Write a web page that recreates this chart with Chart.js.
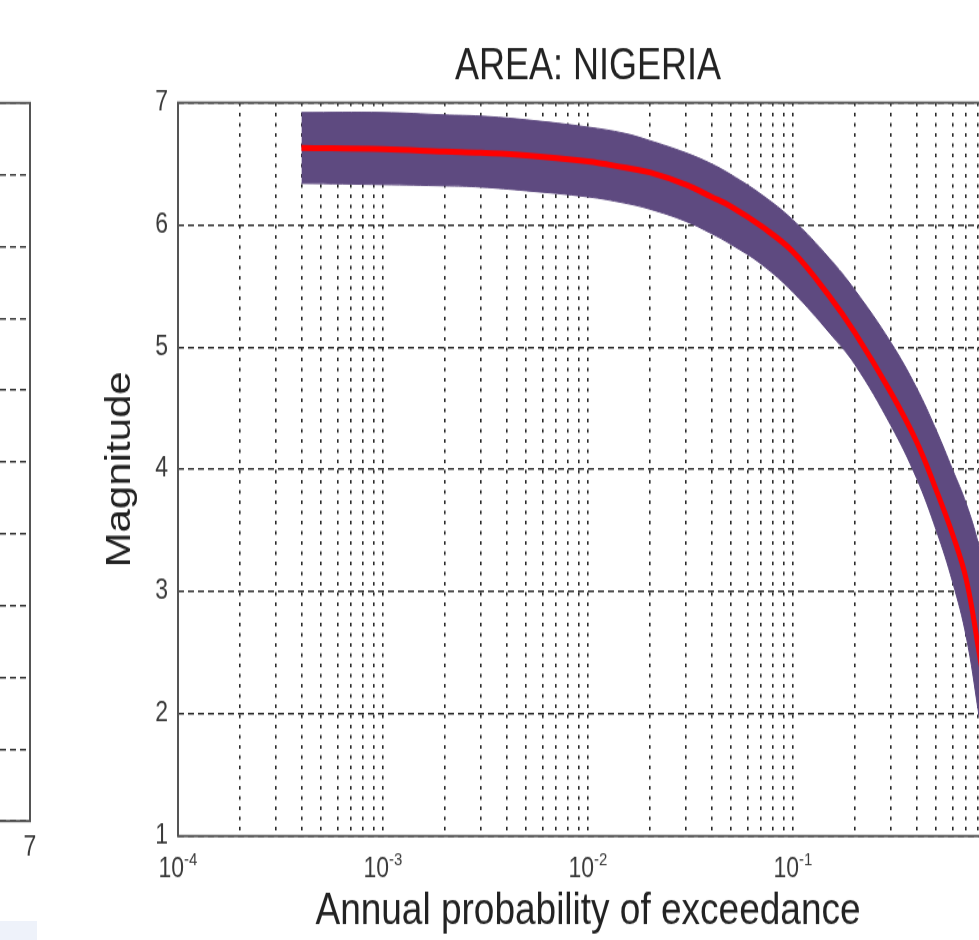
<!DOCTYPE html>
<html>
<head>
<meta charset="utf-8">
<script src="https://cdn.jsdelivr.net/npm/chart.js@4.4.0/dist/chart.umd.min.js"></script>
<style>
  html, body { margin: 0; padding: 0; background: #fff; overflow: hidden; }
  body { width: 979px; height: 940px; position: relative; }
  canvas { position: absolute; top: 0; transform: scaleY(1.2); transform-origin: 0 0; }
  #main { left: 0; }
  #side { left: -390px; }
  #tab { position: absolute; left: 0; top: 921px; width: 37px; height: 19px; background: #eef2fa; }
</style>
</head>
<body>
<canvas id="side" width="440" height="783"></canvas>
<canvas id="main" width="1100" height="783"></canvas>
<div id="tab"></div>
<script>
// annual probability of exceedance vs magnitude
const probs     = [0.0004, 0.001, 0.002, 0.003, 0.005, 0.01, 0.015, 0.02, 0.03, 0.04, 0.05, 0.07, 0.1, 0.15, 0.2, 0.3, 0.4, 0.5, 0.6, 0.7, 0.8, 0.9, 1.0];
const magMedian = [6.63, 6.62, 6.60, 6.59, 6.57, 6.52, 6.47, 6.43, 6.33, 6.23, 6.15, 5.99, 5.78, 5.42, 5.12, 4.63, 4.23, 3.83, 3.47, 3.10, 2.55, 2.00, 1.40];
const magUpper  = [6.92, 6.92, 6.90, 6.89, 6.86, 6.80, 6.75, 6.69, 6.59, 6.50, 6.41, 6.25, 6.04, 5.73, 5.47, 5.04, 4.67, 4.32, 4.00, 3.72, 3.40, 3.00, 2.50];
const magLower  = [6.34, 6.33, 6.32, 6.31, 6.28, 6.23, 6.18, 6.13, 6.03, 5.93, 5.84, 5.68, 5.45, 5.12, 4.86, 4.36, 3.93, 3.50, 3.08, 2.63, 2.03, 1.45, 1.00];

const xDecades   = [1e-4, 1e-3, 1e-2, 1e-1, 1];
const xDecadeExp = ['-4', '-3', '-2', '-1', '0'];
const yTicks     = [1, 2, 3, 4, 5, 6, 7];

// the neighbouring panel on the left, only its right edge is in view
const sideYTicks = [0, 1, 2, 3, 4, 5, 6, 7, 8, 9, 10];
const sideXTick  = 7;

const FONT = '"Liberation Sans", Arial, sans-serif';
const BAND = '#5e4a80';

// minor log grid: 1..9 in every decade
const xGrid = [];
xDecades.forEach(d => {
  for (let k = 1; k <= 9; k++) {
    if (d * k <= 1) xGrid.push(d * k);
  }
});

const pts = ys => probs.map((p, i) => ({ x: p, y: ys[i] }));

const frame = {
  id: 'frame',
  afterDraw(chart) {
    const a = chart.chartArea, ctx = chart.ctx;
    ctx.save();
    ctx.strokeStyle = '#555';
    ctx.lineWidth = 2;
    ctx.strokeRect(a.left, a.top, a.right - a.left, a.bottom - a.top);
    ctx.restore();
  }
};

// "10" with a raised exponent under each decade
const decadeLabels = {
  id: 'decadeLabels',
  afterDraw(chart) {
    const sx = chart.scales.x, ctx = chart.ctx, base = chart.chartArea.bottom;
    ctx.save();
    ctx.fillStyle = '#3a3a3a';
    ctx.textBaseline = 'middle';
    ctx.textAlign = 'left';
    xDecades.forEach((v, i) => {
      const px = sx.getPixelForValue(v);
      ctx.font = '23px ' + FONT;
      const w1 = ctx.measureText('10').width;
      ctx.font = '15px ' + FONT;
      const w2 = ctx.measureText(xDecadeExp[i]).width;
      const x0 = px - (w1 + w2) / 2;
      ctx.font = '23px ' + FONT;
      ctx.fillText('10', x0, base + 28);
      ctx.font = '15px ' + FONT;
      ctx.fillText(xDecadeExp[i], x0 + w1, base + 20);
    });
    ctx.restore();
  }
};

new Chart(document.getElementById('side'), {
  type: 'line',
  data: { datasets: [] },
  options: {
    responsive: false,
    animation: false,
    events: [],
    layout: { padding: { top: 85.8, right: 20, left: 0, bottom: 0 } },
    plugins: { legend: { display: false }, tooltip: { enabled: false } },
    scales: {
      x: {
        type: 'linear', min: 0, max: 7,
        afterBuildTicks: s => { s.ticks = [{ value: sideXTick }]; },
        afterFit: s => { s.height = 98.8; },
        grid: { display: false, drawTicks: false },
        border: { display: false },
        ticks: { color: '#3a3a3a', font: { size: 23, family: FONT }, padding: 9, maxRotation: 0, autoSkip: false }
      },
      y: {
        min: 0, max: 10,
        afterBuildTicks: s => { s.ticks = sideYTicks.map(v => ({ value: v })); },
        afterFit: s => { s.width = 40; },
        ticks: { display: false },
        grid: { color: '#333', lineWidth: 1.5, drawTicks: false },
        border: { display: false, dash: [6, 4] }
      }
    }
  },
  plugins: [frame]
});

new Chart(document.getElementById('main'), {
  type: 'line',
  data: {
    datasets: [
      {
        data: pts(magMedian),
        borderColor: '#ff0000',
        borderWidth: 5,
        pointRadius: 0,
        tension: 0.4,
        fill: false
      },
      {
        data: pts(magUpper),
        borderColor: BAND,
        backgroundColor: BAND,
        borderWidth: 1,
        pointRadius: 0,
        tension: 0.4,
        fill: '+1'
      },
      {
        data: pts(magLower),
        borderColor: BAND,
        borderWidth: 1,
        pointRadius: 0,
        tension: 0.4,
        fill: false
      }
    ]
  },
  options: {
    responsive: false,
    animation: false,
    events: [],
    layout: { padding: { left: 0, top: 0, right: 102, bottom: 0 } },
    plugins: {
      legend: { display: false },
      tooltip: { enabled: false },
      title: {
        display: true,
        text: 'AREA: NIGERIA',
        fullSize: false,
        color: '#222',
        font: { size: 36, family: FONT, weight: 'normal' },
        padding: { top: 34, bottom: 8.4 }
      }
    },
    scales: {
      x: {
        type: 'logarithmic', min: 1e-4, max: 1,
        afterBuildTicks: s => { s.ticks = xGrid.map(v => ({ value: v })); },
        afterFit: s => { s.height = 86.3; },
        grid: { color: '#2a2a2a', lineWidth: 1.6, drawTicks: false },
        border: { display: false, dash: [3, 5.5] },
        ticks: { display: false, autoSkip: false },
        title: {
          display: true,
          text: 'Annual probability of exceedance',
          color: '#222',
          font: { size: 37, family: FONT },
          padding: { top: 0, bottom: 1 }
        }
      },
      y: {
        min: 1, max: 7,
        afterBuildTicks: s => { s.ticks = yTicks.map(v => ({ value: v })); },
        afterFit: s => { s.width = 178; },
        grid: { color: '#2a2a2a', lineWidth: 1.6, drawTicks: false },
        border: { display: false, dash: [6, 4] },
        ticks: { color: '#3a3a3a', font: { size: 23, family: FONT }, padding: 10 },
        title: {
          display: true,
          text: 'Magnitude',
          color: '#222',
          font: { size: 35, family: FONT },
          padding: { top: 99, bottom: 0 }
        }
      }
    }
  },
  plugins: [frame, decadeLabels]
});
</script>
</body>
</html>
